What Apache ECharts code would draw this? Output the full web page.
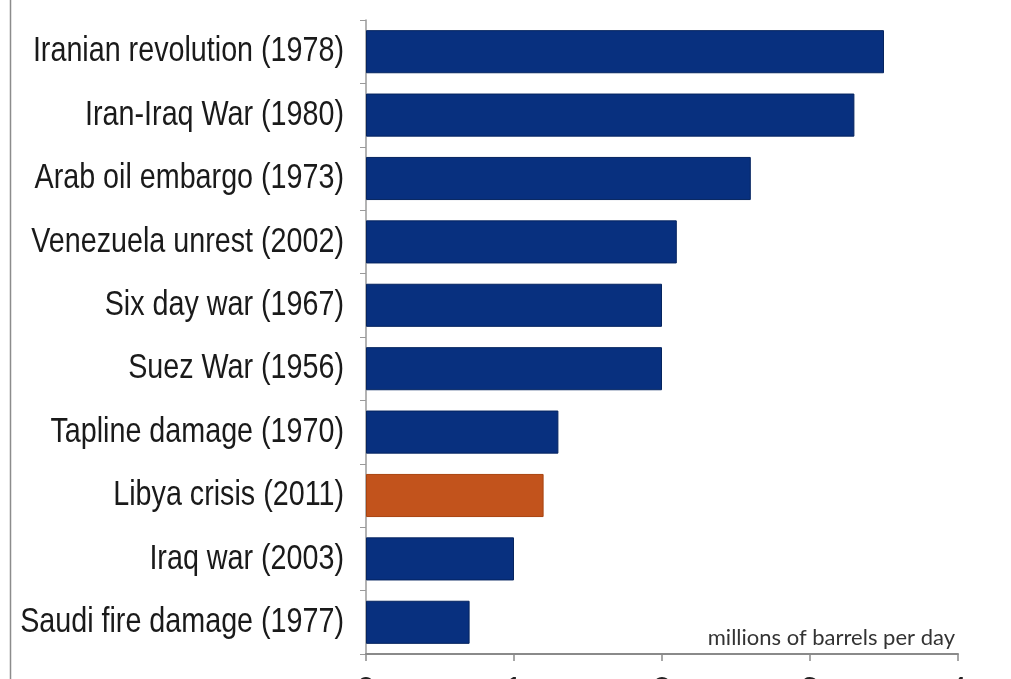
<!DOCTYPE html>
<html>
<head>
<meta charset="utf-8">
<script src="https://cdn.jsdelivr.net/npm/echarts@6/dist/echarts.min.js"></script>
<style>
  html, body { margin: 0; padding: 0; background: #ffffff; }
  #chart { width: 1011px; height: 679px; }
</style>
</head>
<body>
<div id="chart"></div>
<script>
// Supply disruptions, ordered from largest to smallest
const events = [
  'Iranian revolution (1978)',
  'Iran-Iraq War (1980)',
  'Arab oil embargo (1973)',
  'Venezuela unrest (2002)',
  'Six day war (1967)',
  'Suez War (1956)',
  'Tapline damage (1970)',
  'Libya crisis (2011)',
  'Iraq war (2003)',
  'Saudi fire damage (1977)'
];
const lostSupply = [3.5, 3.3, 2.6, 2.1, 2.0, 2.0, 1.3, 1.2, 1.0, 0.7];
const highlighted = 'Libya crisis (2011)';
const xTicks = [0, 1, 2, 3, 4];
const unitLabel = 'millions of barrels per day';

const NAVY = '#08307f';
const ORANGE = '#c2531c';
const LABEL_FONT = '"Liberation Sans", Arial, sans-serif';
// Category labels are set in a tall, narrow face: a regular sans squeezed horizontally
const LABEL_SIZE = 35;
const LABEL_SQUEEZE = 0.82;

const chart = echarts.init(document.getElementById('chart'), null, { renderer: 'canvas' });

const baseOption = {
  backgroundColor: '#ffffff',
  animation: false,
  grid: {
    left: 366, right: 53, top: 20, bottom: 25,
    containLabel: false,
    outerBoundsMode: 'none'
  },
  xAxis: {
    type: 'value',
    min: xTicks[0],
    max: xTicks[xTicks.length - 1],
    interval: 1,
    axisLine: { show: true, lineStyle: { color: '#8a8a8a', width: 2 } },
    axisTick: { show: true, length: 7, lineStyle: { color: '#8a8a8a', width: 1.5 } },
    axisLabel: { show: true, margin: 20, color: '#222', fontSize: 32, fontFamily: LABEL_FONT },
    splitLine: { show: false }
  },
  yAxis: {
    type: 'category',
    data: events,
    inverse: true,
    axisLine: { show: true, lineStyle: { color: '#9a9a9a', width: 1.5 } },
    axisTick: { show: true, length: 6, lineStyle: { color: '#9a9a9a', width: 1 } },
    axisLabel: { show: false }
  },
  series: [{
    type: 'bar',
    data: lostSupply.map((v, i) => ({
      value: v,
      itemStyle: {
        color: events[i] === highlighted ? ORANGE : NAVY,
        borderColor: events[i] === highlighted ? '#a8430f' : '#05245f',
        borderWidth: 1
      }
    })),
    barCategoryGap: '32%'
  }]
};

chart.setOption(baseOption);

// Place the condensed category labels at the positions given by the category axis
const axisLeft = chart.convertToPixel({ xAxisIndex: 0 }, xTicks[0]);
const labelGraphics = events.map((name) => ({
  type: 'text',
  x: axisLeft - 22,
  y: chart.convertToPixel({ yAxisIndex: 0 }, name),
  scaleX: LABEL_SQUEEZE,
  style: {
    text: name,
    fill: '#1a1a1a',
    font: LABEL_SIZE + 'px ' + LABEL_FONT,
    align: 'right',
    verticalAlign: 'middle'
  }
}));

chart.setOption({
  graphic: [
    {
      type: 'line',
      shape: { x1: 10.5, y1: 0, x2: 10.5, y2: 679 },
      style: { stroke: '#8c8c8c', lineWidth: 1.5 }
    },
    {
      type: 'text',
      x: 955,
      y: 638,
      style: {
        text: unitLabel,
        fill: '#333',
        font: '22px Lato',
        align: 'right',
        verticalAlign: 'middle'
      }
    }
  ].concat(labelGraphics)
});
</script>
</body>
</html>
